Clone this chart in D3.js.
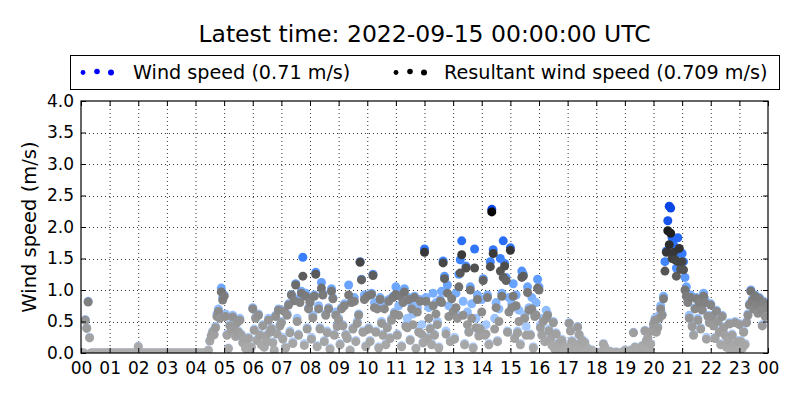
<!DOCTYPE html>
<html>
<head>
<meta charset="utf-8">
<script src="https://cdn.jsdelivr.net/npm/d3@7"></script>
<style>
  body { margin: 0; background: #fff; }
  text { font-family: "DejaVu Sans", sans-serif; fill: #000; }
</style>
</head>
<body>
<svg id="chart" width="800" height="400"></svg>
<script>
//Chart data (one value every 3 minutes, 20 per hour, UTC day 2022-09-14)
const titleText = "Latest time: 2022-09-15 00:00:00 UTC";
const seriesNames = ["Wind speed (0.71 m/s)", "Resultant wind speed (0.709 m/s)"];
const yTickValues = [0, 0.5, 1.0, 1.5, 2.0, 2.5, 3.0, 3.5, 4.0];
const stepMinutes = 3;

const windSpeed = [
  0,0,0,0.53,0.40,0.82,0.25,0,0,0,0,0,0,0,0,0,0,0,0,0,                                   //00
  0,0,0,0,0,0,0,0,0,0,0,0,0,0,0,0,0,0,0,0,                                                //01
  0.11,0,0,0,0,0,0,0,0,0,0,0,0,0,0,0,0,0,0,0,                                             //02
  0,0,0,0,0,0,0,0,0,0,0,0,0,0,0,0,0,0,0,0,                                                //03
  0,0,0,0,0,0,0,0,0,0.05,0.2,0.28,0.35,0.3,0.42,0.62,0.7,0.6,1.03,0.88,                   //04
  0.92,0.62,0.3,0.08,0.45,0.38,0.6,0.42,0.28,0.5,0.35,0.55,0.3,0.18,0.24,0.08,0.12,0.25,0.05,0.1, //05
  0.72,0.38,0.57,0.22,0.62,0.3,0.15,0.45,0.1,0.28,0.2,0.55,0.35,0.4,0.18,0.05,0.6,0.32,0.7,0.45,  //06
  0.5,0.25,0.68,0.1,0.62,0.78,0.35,0.93,0.18,0.85,1.1,0.55,0.3,0.88,0.98,1.52,0.15,0.95,0.4,0.72, //07
  0.82,0.25,0.6,0.92,1.28,0.12,0.75,0.4,1.12,0.95,0.2,0.62,0.35,0.72,0.08,1.02,0.88,0.3,0.65,0.45, //08
  0.55,0.15,0.72,0.45,0.78,0.3,0.25,1.08,0.05,0.82,0.4,0.88,0.2,0.5,0.62,1.45,1.17,0.35,0.92,0.12, //09
  0.92,0.4,0.2,0.95,1.25,0.8,0.35,0.72,0.1,0.88,0.5,0.3,0.78,0.15,0.42,0.85,0.25,0.55,0.9,0.65,    //10
  1.05,0.3,0.75,0.95,0.12,0.82,1.02,0.45,0.55,0.88,0.22,0.78,0.62,0.9,0.08,0.72,0.35,0.85,0.45,0.18, //11
  1.65,0.88,0.25,0.72,0.4,0.15,0.95,0.3,0.8,0.5,0.1,0.85,0.98,1.46,1.22,0.35,1.08,0.75,0.2,0.9,     //12
  0.7,0.25,0.95,0.6,1.25,1.48,1.78,0.82,0.15,1.38,0.65,0.35,1.05,0.78,0.1,1.65,0.55,0.92,0.3,0.4,   //13
  0.85,1.18,0.3,0.45,0.92,0.15,1.45,2.28,1.64,0.55,0.8,0.2,0.7,1.5,0.95,1.78,1.42,1.2,0.35,0.88,    //14
  1.67,0.78,1.1,0.25,0.92,0.35,0.68,0.15,1.3,1.25,0.6,0.42,1.05,0.72,0.3,0.88,0.1,0.62,0.8,1.17,    //15
  1.05,0.45,0.3,0.55,0.2,0.68,0.62,0.38,0.25,0.15,0.5,0.08,0.32,0.05,0.18,0.1,0.22,0.02,0.12,0.05, //16
  0.02,0.48,0.36,0.2,0.1,0.15,0.05,0.42,0.3,0.12,0.22,0.05,0.18,0.02,0.08,0.03,0,0.05,0,0.02,      //17
  0,0,0,0.02,0,0.15,0.1,0.05,0,0,0.03,0,0,0,0.02,0,0,0,0,0,                                        //18
  0.05,0.02,0,0,0.05,0,0.33,0.1,0,0.03,0,0.05,0.12,0.08,0.36,0.2,0.25,0.05,0.15,0.36,              //19
  0.47,0.55,0.35,0.42,0.6,0.75,0.62,0.9,1.45,1.62,2.1,2.33,2.3,1.83,1.72,1.5,1.35,1.83,1.62,1.6,   //20
  1.58,1.45,1.2,1.05,0.85,0.6,0.92,0.45,0.3,0.72,0.88,0.55,0.82,0.4,0.7,0.95,0.85,0.25,0.6,0.5,    //21
  0.78,0.6,0.45,0.25,0.68,0.52,0.35,0.15,0.6,0.42,0.3,0.1,0.22,0.48,0.05,0.3,0.15,0.5,0.08,0.2,    //22
  0.47,0.2,0.08,0.35,0.15,0.5,0.62,0.78,1.0,0.85,0.72,0.92,0.8,0.65,0.88,0.7,0.45,0.82,0.6,0.75    //23
];

const resultantSpeed = [
  0,0,0,0.52,0.39,0.81,0.24,0,0,0,0,0,0,0,0,0,0,0,0,0,                                   //00
  0,0,0,0,0,0,0,0,0,0,0,0,0,0,0,0,0,0,0,0,                                                //01
  0.1,0,0,0,0,0,0,0,0,0,0,0,0,0,0,0,0,0,0,0,                                              //02
  0,0,0,0,0,0,0,0,0,0,0,0,0,0,0,0,0,0,0,0,                                                //03
  0,0,0,0,0,0,0,0,0,0.04,0.19,0.27,0.33,0.29,0.4,0.58,0.66,0.55,0.97,0.84,                 //04
  0.9,0.58,0.28,0.07,0.43,0.36,0.57,0.4,0.26,0.48,0.33,0.52,0.28,0.16,0.22,0.07,0.1,0.23,0.04,0.09, //05
  0.7,0.36,0.55,0.2,0.6,0.28,0.13,0.43,0.09,0.26,0.18,0.52,0.33,0.38,0.16,0.04,0.58,0.3,0.68,0.43,  //06
  0.48,0.22,0.66,0.08,0.6,0.76,0.32,0.92,0.15,0.83,1.08,0.5,0.28,0.8,0.95,1.22,0.12,0.9,0.38,0.7,   //07
  0.8,0.22,0.56,0.9,1.25,0.1,0.7,0.38,1.03,0.92,0.18,0.6,0.32,0.7,0.06,0.98,0.86,0.28,0.6,0.42,     //08
  0.52,0.13,0.7,0.43,0.75,0.28,0.23,0.92,0.04,0.8,0.38,0.82,0.18,0.47,0.6,1.44,1.16,0.33,0.85,0.1,  //09
  0.9,0.38,0.18,0.93,1.23,0.72,0.33,0.7,0.08,0.85,0.47,0.28,0.7,0.13,0.4,0.82,0.23,0.52,0.88,0.62,  //10
  0.93,0.28,0.6,0.9,0.1,0.8,0.97,0.42,0.4,0.85,0.2,0.7,0.45,0.88,0.07,0.65,0.33,0.82,0.3,0.16,      //11
  1.6,0.82,0.23,0.55,0.38,0.13,0.75,0.28,0.62,0.45,0.08,0.82,0.8,1.43,1.18,0.3,0.95,0.58,0.18,0.86, //12
  0.65,0.22,0.72,0.55,1.05,1.27,1.56,0.6,0.13,1.35,0.45,0.33,1.0,0.55,0.08,1.35,0.4,0.85,0.27,0.38, //13
  0.65,1.15,0.28,0.3,0.88,0.13,1.37,2.24,1.58,0.38,0.72,0.18,0.5,1.3,0.9,1.2,1.38,1.15,0.33,0.65,   //14
  1.63,0.72,0.9,0.23,0.75,0.32,0.5,0.13,1.2,1.22,0.55,0.28,0.96,0.68,0.28,0.7,0.08,0.58,0.6,1.03,   //15
  1.0,0.4,0.28,0.5,0.18,0.55,0.6,0.35,0.22,0.12,0.48,0.06,0.3,0.04,0.15,0.08,0.2,0.01,0.1,0.04,    //16
  0.01,0.47,0.35,0.18,0.09,0.14,0.04,0.41,0.29,0.1,0.2,0.04,0.16,0.01,0.07,0.02,0,0.04,0,0.01,     //17
  0,0,0,0.01,0,0.14,0.09,0.04,0,0,0.02,0,0,0,0.01,0,0,0,0,0,                                        //18
  0.04,0.01,0,0,0.04,0,0.32,0.09,0,0.02,0,0.04,0.11,0.07,0.35,0.19,0.24,0.04,0.14,0.35,             //19
  0.45,0.52,0.33,0.4,0.55,0.7,0.6,0.86,1.3,1.6,1.94,1.72,1.9,1.5,1.6,1.48,1.22,1.45,1.66,1.33,     //20
  1.45,1.32,1.0,0.9,0.8,0.55,0.88,0.42,0.28,0.7,0.86,0.52,0.8,0.38,0.68,0.9,0.8,0.22,0.58,0.48,    //21
  0.76,0.58,0.43,0.23,0.66,0.5,0.33,0.13,0.58,0.4,0.28,0.09,0.2,0.46,0.04,0.28,0.13,0.48,0.07,0.18, //22
  0.45,0.18,0.07,0.33,0.13,0.48,0.6,0.76,0.98,0.83,0.7,0.9,0.78,0.63,0.86,0.68,0.43,0.8,0.58,0.72   //23
];

//Layout
const svg = d3.select("#chart");
const plot = { left: 81, right: 768, top: 101, bottom: 353 };
const dayStart = new Date(Date.UTC(2022, 8, 14, 0, 0, 0));
const dayEnd = new Date(Date.UTC(2022, 8, 15, 0, 0, 0));

const x = d3.scaleUtc().domain([dayStart, dayEnd]).range([plot.left, plot.right]);
const y = d3.scaleLinear().domain([0, 4]).range([plot.bottom, plot.top]);

const timeOf = i => new Date(dayStart.getTime() + i * stepMinutes * 60000);

//Colour maps (value -> shade)
const blueShade = d3.scaleLinear()
  .domain([0, 0.5, 1.0, 1.5, 2.3])
  .range(["#bcd6ff", "#a0c6ff", "#72aaff", "#3a80ff", "#0a46e6"])
  .clamp(true);
const grayShade = d3.scaleLinear()
  .domain([0, 0.5, 1.0, 1.5, 2.3])
  .range(["#adadad", "#979797", "#747474", "#404040", "#000000"])
  .clamp(true);

//Title
svg.append("text")
  .attr("x", (plot.left + plot.right) / 2)
  .attr("y", 42)
  .attr("text-anchor", "middle")
  .style("font-size", "23.5px")
  .text(titleText);

//Grid
const hourTicks = x.ticks(d3.utcHour.every(1));
const grid = svg.append("g").attr("stroke", "#000").attr("stroke-width", 0.8).attr("stroke-dasharray", "1,3");
grid.selectAll(".vgrid").data(hourTicks.slice(1, -1)).enter().append("line")
  .attr("x1", d => x(d) + 0.5).attr("x2", d => x(d) + 0.5)
  .attr("y1", plot.top).attr("y2", plot.bottom);
grid.selectAll(".hgrid").data(yTickValues.slice(1, -1)).enter().append("line")
  .attr("y1", d => Math.round(y(d)) + 0.5).attr("y2", d => Math.round(y(d)) + 0.5)
  .attr("x1", plot.left).attr("x2", plot.right);

//Scatter points, clipped to axes
svg.append("clipPath").attr("id", "plot-clip")
  .append("rect")
  .attr("x", plot.left).attr("y", plot.top)
  .attr("width", plot.right - plot.left).attr("height", plot.bottom - plot.top);

const points = svg.append("g").attr("clip-path", "url(#plot-clip)");
points.append("g").selectAll("circle")
  .data(windSpeed).enter().append("circle")
  .attr("cx", (d, i) => x(timeOf(i)))
  .attr("cy", d => y(d))
  .attr("r", 4.5)
  .attr("fill", d => blueShade(d));
points.append("g").selectAll("circle")
  .data(resultantSpeed).enter().append("circle")
  .attr("cx", (d, i) => x(timeOf(i)))
  .attr("cy", d => y(d))
  .attr("r", 4.5)
  .attr("fill", d => grayShade(d));

//Axes (ticks point inward like classic matplotlib)
svg.append("g")
  .attr("transform", `translate(0,${plot.bottom})`)
  .call(d3.axisBottom(x).ticks(d3.utcHour.every(1)).tickFormat(d3.utcFormat("%H"))
    .tickSizeInner(-5).tickSizeOuter(0).tickPadding(8.5));
svg.append("g")
  .attr("transform", `translate(${plot.left},0)`)
  .call(d3.axisLeft(y).tickValues(yTickValues).tickFormat(d3.format(".1f"))
    .tickSizeInner(-5).tickSizeOuter(0).tickPadding(7));
svg.append("g")
  .attr("transform", `translate(0,${plot.top})`)
  .call(d3.axisTop(x).ticks(d3.utcHour.every(1)).tickFormat("").tickSizeInner(-5).tickSizeOuter(0));
svg.append("g")
  .attr("transform", `translate(${plot.right},0)`)
  .call(d3.axisRight(y).tickValues(yTickValues).tickFormat("").tickSizeInner(-5).tickSizeOuter(0));

svg.selectAll(".domain").remove();
svg.selectAll(".tick line").attr("stroke", "#000");
svg.selectAll(".tick text")
  .style("font-size", "17px")
  .style("font-family", "DejaVu Sans, sans-serif")
  .attr("fill", "#000");

//Frame
svg.append("rect")
  .attr("x", plot.left).attr("y", plot.top)
  .attr("width", plot.right - plot.left).attr("height", plot.bottom - plot.top)
  .attr("fill", "none").attr("stroke", "#000").attr("stroke-width", 1.2);

//Y label
svg.append("text")
  .attr("transform", `translate(36,${(plot.top + plot.bottom) / 2}) rotate(-90)`)
  .attr("text-anchor", "middle")
  .style("font-size", "19.5px")
  .text("Wind speed (m/s)");

//Legend
const legend = svg.append("g");
legend.append("rect")
  .attr("x", 70.5).attr("y", 55.5).attr("width", 709).attr("height", 34)
  .attr("fill", "#fff").attr("stroke", "#000").attr("stroke-width", 1);

const legendDots = [2.4, 2.8, 3.0];
const legendItems = [
  { name: seriesNames[0], color: "#0000ff", x0: 83, textX: 133 },
  { name: seriesNames[1], color: "#000000", x0: 396, textX: 444 }
];
legendItems.forEach(item => {
  legendDots.forEach((r, k) => {
    legend.append("circle")
      .attr("cx", item.x0 + k * 14)
      .attr("cy", 72.5 + (k === 1 ? -1 : 0))
      .attr("r", r)
      .attr("fill", item.color);
  });
  legend.append("text")
    .attr("x", item.textX)
    .attr("y", 78.5)
    .style("font-size", "19.2px")
    .text(item.name);
});
</script>
</body>
</html>
